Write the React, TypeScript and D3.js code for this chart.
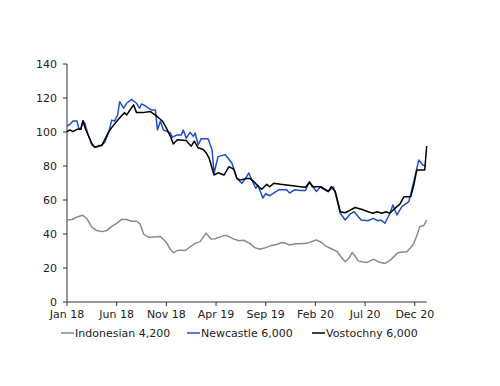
import React from 'react';
import * as d3 from 'd3';

// month offsets from Jan 2018, values in US$/t
const indoMonths = [0, 0.5, 1, 1.6, 2, 2.5, 3, 3.5, 4, 4.5, 5, 5.5, 6, 6.5, 7, 7.35, 7.7, 8.2, 8.7, 9.4, 10, 10.4, 10.7, 11.2, 11.9, 12.4, 12.9, 13.4, 14, 14.5, 14.9, 15.4, 15.9, 16.3, 16.8, 17.3, 17.8, 18.4, 18.9, 19.4, 20, 20.6, 21.1, 21.6, 22, 22.4, 23, 23.5, 24.1, 24.6, 25.1, 25.6, 26, 26.5, 27.2, 27.6, 28, 28.4, 28.7, 29, 29.3, 29.8, 30.2, 30.6, 30.9, 31.4, 32, 32.5, 32.9, 33.3, 33.6, 34.2, 34.6, 34.9, 35.2, 35.5, 35.9, 36.2];
const indoValues = [48.2, 48.5, 50, 51, 49, 44, 42, 41.4, 42, 44.5, 46.3, 48.6, 48.5, 47.5, 47.5, 46, 40, 38, 38.2, 38.5, 35, 31, 29, 30.5, 30.3, 32.5, 34.5, 35.5, 40.5, 37, 37.2, 38.3, 39.2, 38.5, 37, 36, 36.3, 34.5, 32, 31, 32, 33.3, 33.8, 35, 34.5, 33.5, 34.3, 34.2, 34.5, 35.5, 36.5, 35, 33, 31.6, 29.6, 26.5, 23.7, 26, 29.2, 27, 24.2, 23.5, 23.3, 24.5, 25.1, 23.5, 22.7, 24.5, 26.7, 29, 29.2, 29.6, 32, 34.5, 39, 44.3, 45, 48.2];

const newcMonths = [0, 0.3, 0.6, 1, 1.2, 1.4, 1.6, 1.8, 2.1, 2.5, 2.8, 3.2, 3.5, 3.8, 4.2, 4.5, 4.8, 5.1, 5.3, 5.7, 6, 6.5, 7, 7.3, 7.5, 7.9, 8.2, 8.5, 8.9, 9.1, 9.4, 9.7, 10, 10.4, 10.6, 11.1, 11.5, 11.7, 12, 12.4, 12.7, 12.9, 13.2, 13.5, 14.2, 14.6, 14.8, 15.2, 15.9, 16.2, 16.6, 17.1, 17.6, 18.1, 18.3, 18.6, 19, 19.2, 19.5, 19.7, 20, 20.4, 20.8, 21.3, 22.1, 22.4, 22.9, 23.5, 24, 24.4, 25.1, 25.5, 26.3, 26.8, 27.1, 27.5, 28, 28.5, 28.9, 29.6, 30.3, 30.8, 31.3, 31.6, 32, 32.5, 32.8, 33.2, 33.7, 34.4, 34.9, 35.4, 35.8, 36.1];
const newcValues = [103.5, 104.5, 106.5, 106.5, 101.8, 102, 106.7, 105, 99, 92.4, 91, 92, 92.4, 94, 99.8, 107, 106.5, 110, 117.8, 114, 116.9, 119.2, 116.9, 114, 116.5, 115.3, 114, 113, 113, 101.2, 106.5, 101.2, 100.5, 99.4, 97, 98.3, 98.3, 101.2, 96.4, 99.8, 97.4, 99.4, 92.4, 96, 96, 89.4, 75.7, 85.5, 86.7, 84.7, 81.6, 72.7, 69.8, 74, 75.9, 71.8, 66.9, 68.8, 64.5, 61.2, 63.7, 62.5, 64.1, 66, 66, 64.1, 66, 65.6, 65.6, 70.8, 65, 67.8, 65, 67.8, 61.9, 52.2, 48.2, 51.8, 53.1, 48.2, 47.8, 49.2, 47.8, 48.2, 46.3, 52.2, 57.1, 51.2, 56.1, 59, 70.8, 83.5, 80.6, 80];

const vostMonths = [0, 0.3, 0.6, 1, 1.4, 1.6, 1.9, 2.5, 2.8, 3.5, 4.2, 4.7, 5.4, 5.8, 6, 6.7, 7, 7.6, 8.4, 9.1, 9.6, 9.9, 10.4, 10.7, 11.1, 12, 12.5, 12.8, 13.2, 13.7, 14, 14.3, 14.8, 15.2, 15.8, 16.3, 16.8, 17.1, 17.4, 18.1, 18.4, 18.8, 19.3, 19.6, 20.1, 20.4, 20.8, 21.5, 23.5, 24, 24.4, 24.7, 25.5, 26.3, 26.6, 27, 27.5, 28, 28.5, 29, 29.7, 30.3, 30.8, 31.2, 31.7, 32.1, 32.5, 33, 33.5, 33.9, 34.6, 34.9, 35.2, 36, 36.2];
const vostValues = [100.2, 101.2, 100.2, 101.6, 101.6, 106.5, 101.2, 93.3, 91, 92, 100.2, 104.1, 109, 111.4, 110, 116, 111.4, 111.4, 112, 109, 106.5, 103.5, 97.6, 93, 95.4, 95, 91.6, 94.6, 90.7, 89.7, 87.8, 84.7, 74.7, 76, 74.7, 79.6, 78, 72.7, 71.7, 72.7, 72.7, 70.8, 67.8, 66.3, 69.2, 67.8, 69.8, 69.2, 67.8, 67.5, 70.4, 67.8, 67.8, 65, 67.8, 65, 53.1, 52.5, 54, 55.6, 54.4, 53.1, 52.2, 53.1, 52.2, 53.1, 52.2, 55.1, 57.6, 61.9, 61.9, 68.8, 77.6, 77.6, 91.8];

const tickMonths = [0, 5, 10, 15, 20, 25, 30, 35];
const tickLabels = ['Jan 18', 'Jun 18', 'Nov 18', 'Apr 19', 'Sep 19', 'Feb 20', 'Jul 20', 'Dec 20'];
const yTicks = [0, 20, 40, 60, 80, 100, 120, 140];

const seriesNames = ['Indonesian 4,200', 'Newcastle 6,000', 'Vostochny 6,000'];
const seriesColors = ['#8a8a8a', '#1f4fc0', '#000000'];

const FONT = "'DejaVu Sans', Verdana, sans-serif";

export default function App() {
  const x = d3.scaleLinear().domain([0, 36.2]).range([67, 426.7]);
  const y = d3.scaleLinear().domain([0, 140]).range([302, 64]);

  const line = d3.line<[number, number]>()
    .x(d => x(d[0]))
    .y(d => y(d[1]));

  const series = [
    d3.zip(indoMonths, indoValues),
    d3.zip(newcMonths, newcValues),
    d3.zip(vostMonths, vostValues),
  ] as [number, number][][];

  const legendX = [61, 187, 312];

  return (
    <svg width={500} height={386} style={{ position: 'absolute', left: 0, top: 0, background: '#fff' }} fontFamily={FONT}>
      {/* y axis */}
      <line x1={67} x2={67} y1={y(140)} y2={y(0)} stroke="#333" strokeWidth={1} />
      {yTicks.map(t => (
        <g key={t}>
          <line x1={63} x2={67} y1={y(t)} y2={y(t)} stroke="#333" />
          <text x={57} y={y(t)} dy="0.35em" textAnchor="end" fontSize={11} fill="#222">{t}</text>
        </g>
      ))}
      {/* x axis */}
      <line x1={x(0)} x2={x(36.2)} y1={302} y2={302} stroke="#333" strokeWidth={1} />
      {tickMonths.map((m, i) => (
        <g key={m}>
          <line x1={x(m)} x2={x(m)} y1={302} y2={306} stroke="#333" />
          <text x={x(m)} y={318} textAnchor="middle" fontSize={11} fill="#222">{tickLabels[i]}</text>
        </g>
      ))}
      {/* series */}
      {series.map((s, i) => (
        <path key={i} d={line(s) || ''} fill="none" stroke={seriesColors[i]} strokeWidth={1.5} strokeLinejoin="round" />
      ))}
      {/* legend */}
      {seriesNames.map((n, i) => (
        <g key={n}>
          <line x1={legendX[i]} x2={legendX[i] + 13} y1={333} y2={333} stroke={seriesColors[i]} strokeWidth={1.5} />
          <text x={legendX[i] + 14} y={333} dy="0.35em" fontSize={11} fill="#222">{n}</text>
        </g>
      ))}
    </svg>
  );
}
